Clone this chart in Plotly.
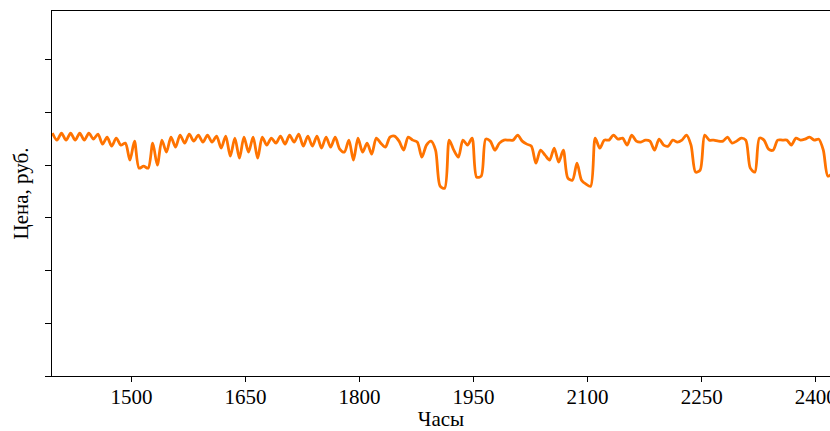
import plotly.graph_objects as go

# Hours (every 6 hours) and price values
hours = list(range(1396, 2423, 6))
price = [
    4605, 4472, 4605, 4472, 4605, 4472, 4605, 4472, 4605, 4491,
    4586, 4396, 4529, 4358, 4510, 4377, 4415, 4092, 4453, 3940,
    3978, 3940, 4415, 3997, 4472, 4244, 4529, 4339, 4567, 4415,
    4586, 4453, 4567, 4434, 4567, 4434, 4548, 4320, 4548, 4168,
    4510, 4130, 4529, 4244, 4529, 4130, 4529, 4377, 4510, 4415,
    4548, 4396, 4567, 4434, 4586, 4358, 4548, 4358, 4548, 4320,
    4529, 4339, 4529, 4301, 4244, 4472, 4092, 4510, 4244, 4415,
    4206, 4510, 4415, 4339, 4529, 4548, 4453, 4282, 4529, 4472,
    4434, 4149, 4377, 4453, 4282, 3599, 3561, 4472, 4282, 4149,
    4472, 4377, 4510, 3770, 3789, 4491, 4453, 4282, 4415, 4472,
    4472, 4472, 4567, 4453, 4396, 4358, 4035, 4282, 4187, 4092,
    4320, 4054, 4282, 3751, 3713, 4035, 3713, 3637, 3599, 4510,
    4320, 4472, 4472, 4567, 4491, 4510, 4377, 4567, 4453, 4434,
    4472, 4453, 4282, 4491, 4377, 4358, 4472, 4434, 4472, 4567,
    4377, 3865, 3903, 4567, 4472, 4472, 4453, 4453, 4529, 4415,
    4453, 4510, 4472, 3940, 3865, 4510, 4472, 4301, 4282, 4472,
    4472, 4472, 4377, 4510, 4472, 4491, 4529, 4472, 4491, 4282,
    3789, 3846,
]
x_ticks = [1500, 1650, 1800, 1950, 2100, 2250, 2400]
y_ticks = [0, 1000, 2000, 3000, 4000, 5000, 6000]

font_family = "Liberation Serif, Times New Roman, serif"

fig = go.Figure()
fig.add_trace(go.Scatter(
    x=hours, y=price, mode="lines",
    line=dict(color="#ff7300", width=2.8, shape="spline", smoothing=0.8),
    showlegend=False,
))

fig.update_layout(
    width=830, height=431,
    margin=dict(l=52, r=0, t=11, b=55, autoexpand=False),
    paper_bgcolor="white", plot_bgcolor="white",
    font=dict(family=font_family, size=21, color="black"),
    xaxis=dict(
        range=[1395.5, 2418.8],
        tickvals=x_ticks,
        automargin=False,
        ticklabeloverflow="allow",
        ticklabelstandoff=-3,
        ticks="outside", ticklen=5, tickwidth=1, tickcolor="black",
        showline=True, linecolor="black", linewidth=1, mirror=True,
        showgrid=False, zeroline=False,
        tickfont=dict(family=font_family, size=21),
        title=dict(text="Часы", font=dict(family=font_family, size=21), standoff=12),
    ),
    yaxis=dict(
        range=[0, 6920],
        tickvals=y_ticks,
        automargin=False,
        showticklabels=False,
        ticks="outside", ticklen=6, tickwidth=1, tickcolor="black",
        showline=True, linecolor="black", linewidth=1, mirror=False,
        showgrid=False, zeroline=False,
        title=dict(text="Цена, руб.", font=dict(family=font_family, size=21), standoff=10),
    ),
)

fig.write_html(
    "out.html",
    config={"displayModeBar": False},
    post_script="document.body.style.margin='0';document.body.style.overflow='hidden';",
)
